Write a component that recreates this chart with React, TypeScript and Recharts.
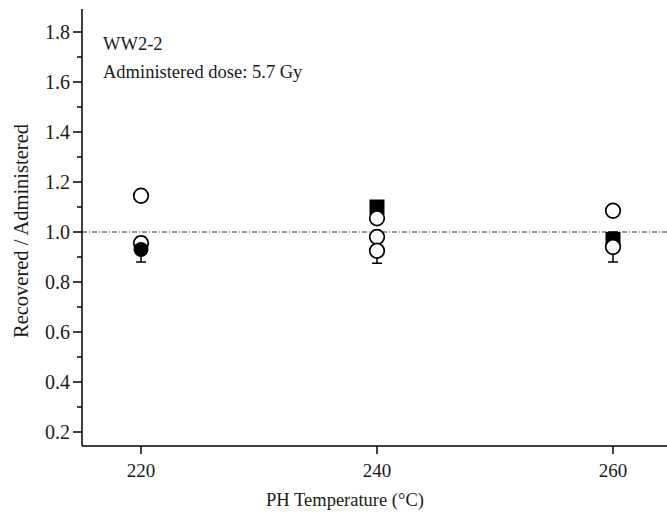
import { ErrorBar, Label, ReferenceLine, Scatter, ScatterChart, XAxis, YAxis } from "recharts"

// PH temperatures on the x axis
const xTicks = [220, 240, 260]
const yTicks = [0.2, 0.3, 0.4, 0.5, 0.6, 0.7, 0.8, 0.9, 1.0, 1.1, 1.2, 1.3, 1.4, 1.5, 1.6, 1.7, 1.8]

// open circles without visible error bars
const openTemp = [220, 220, 240, 240, 260]
const openRatio = [1.145, 0.955, 1.055, 0.98, 1.085]

// open circles with error bars
const openBarTemp = [240, 260]
const openBarRatio = [0.925, 0.94]
const openBarErr = [0.05, 0.06]

// filled circle
const solidTemp = [220]
const solidRatio = [0.93]
const solidErr = [0.05]

// filled squares
const squareTemp = [240, 260]
const squareRatio = [1.1, 0.97]

const FONT = '"Liberation Serif", "Times New Roman", serif'
const INK = "#1a1a1a"

const openData = openTemp.map((t, i) => ({ x: t, y: openRatio[i] }))
const openBarData = openBarTemp.map((t, i) => ({ x: t, y: openBarRatio[i], err: openBarErr[i] }))
const solidData = solidTemp.map((t, i) => ({ x: t, y: solidRatio[i], err: solidErr[i] }))
const squareData = squareTemp.map((t, i) => ({ x: t, y: squareRatio[i] }))

const OpenCircle = (props: any) => (
  <circle cx={props.cx} cy={props.cy} r={7.3} fill="#fff" stroke="#000" strokeWidth={1.7} />
)
const SolidCircle = (props: any) => <circle cx={props.cx} cy={props.cy} r={7.5} fill="#000" />
const SolidSquare = (props: any) => (
  <rect x={props.cx - 7.5} y={props.cy - 7.5} width={15} height={15} fill="#000" />
)

const YTick = ({ x, y, payload }: any) => {
  const major = Math.round(payload.value * 10) % 2 === 0
  return (
    <g>
      <line x1={x} x2={x - (major ? 9 : 5)} y1={y} y2={y} stroke="#000" strokeWidth={1.5} />
      {major && (
        <text x={x - 12} y={y + 7} textAnchor="end" fontSize={20} style={{ fontFamily: FONT }} fill={INK}>
          {payload.value.toFixed(1)}
        </text>
      )}
    </g>
  )
}

const XTick = ({ x, y, payload }: any) => (
  <g>
    <line x1={x} x2={x} y1={y} y2={y + 8} stroke="#000" strokeWidth={1.5} />
    <text x={x} y={y + 31} textAnchor="middle" fontSize={19} style={{ fontFamily: FONT }} fill={INK}>
      {payload.value}
    </text>
  </g>
)

export default function App() {
  return (
    <div
      style={{
        position: "absolute",
        left: 0,
        top: 0,
        width: 667,
        height: 519,
        overflow: "hidden",
        background: "#fff",
        fontFamily: FONT,
      }}
    >
      <ScatterChart width={720} height={519} margin={{ top: 9, right: 48, left: 0, bottom: 0 }}>
        <XAxis
          xAxisId="top"
          orientation="top"
          type="number"
          domain={[215, 265]}
          height={0}
          tick={false}
          tickLine={false}
          axisLine={{ stroke: "#000", strokeWidth: 1.5 }}
        />
        <XAxis
          dataKey="x"
          type="number"
          domain={[215, 265]}
          ticks={xTicks}
          interval={0}
          height={73}
          tickSize={0}
          tickMargin={0}
          tickLine={false}
          tick={<XTick />}
          axisLine={{ stroke: "#000", strokeWidth: 1.5 }}
        >
          <Label
            content={() => (
              <text x={345} y={506} textAnchor="middle" fontSize={18.5} style={{ fontFamily: FONT }} fill={INK}>
                PH Temperature (°C)
              </text>
            )}
          />
        </XAxis>
        <YAxis
          dataKey="y"
          type="number"
          domain={[0.144, 1.892]}
          ticks={yTicks}
          interval={0}
          width={82}
          tickSize={0}
          tickMargin={0}
          tickLine={false}
          tick={<YTick />}
          axisLine={{ stroke: "#000", strokeWidth: 1.5 }}
        >
          <Label
            content={() => (
              <text
                x={0}
                y={0}
                transform="translate(28, 231) rotate(-90)"
                textAnchor="middle"
                fontSize={20.5}
                style={{ fontFamily: FONT }}
                fill={INK}
              >
                Recovered / Administered
              </text>
            )}
          />
        </YAxis>
        <ReferenceLine y={1} stroke="#333" strokeWidth={1} strokeDasharray="5 2 1 2" />
        <Scatter data={squareData} shape={<SolidSquare />} isAnimationActive={false} />
        <Scatter data={openData} shape={<OpenCircle />} isAnimationActive={false} />
        <Scatter data={openBarData} shape={<OpenCircle />} isAnimationActive={false}>
          <ErrorBar dataKey="err" direction="y" width={5} stroke="#000" strokeWidth={1.5} />
        </Scatter>
        <Scatter data={solidData} shape={<SolidCircle />} isAnimationActive={false}>
          <ErrorBar dataKey="err" direction="y" width={5} stroke="#000" strokeWidth={1.5} />
        </Scatter>
      </ScatterChart>
      <div
        style={{
          position: "absolute",
          left: 103,
          top: 30,
          fontSize: 18.5,
          color: INK,
          lineHeight: "28px",
        }}
      >
        WW2-2
        <br />
        Administered dose: 5.7 Gy
      </div>
    </div>
  )
}
